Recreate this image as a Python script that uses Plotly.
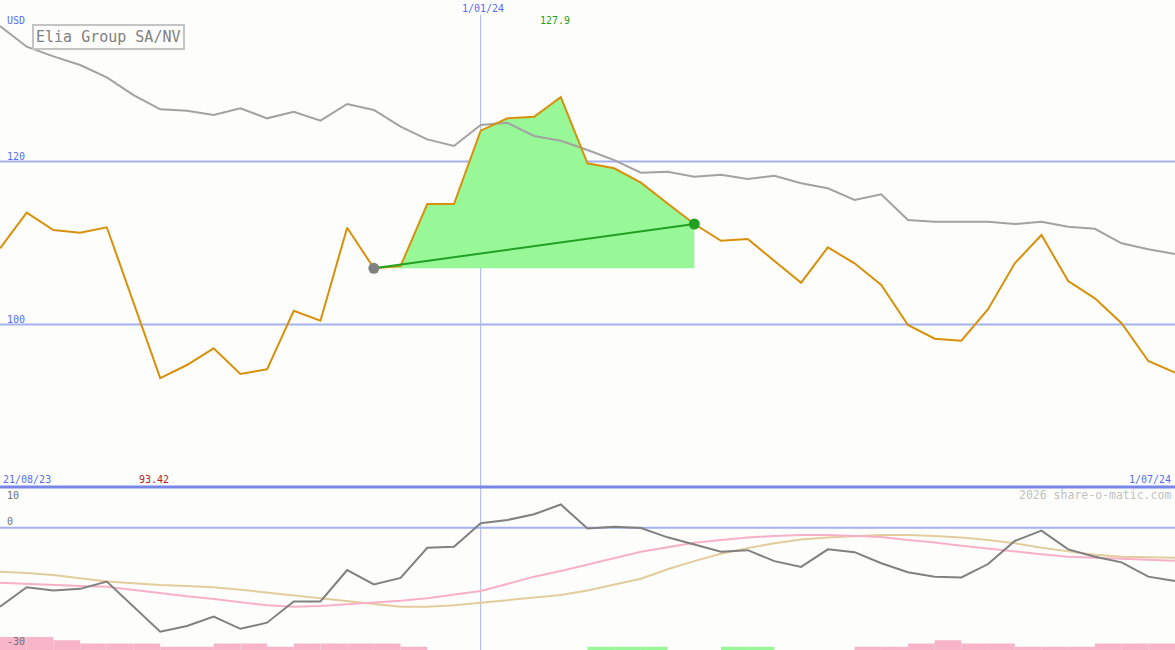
import pandas as pd
import plotly.graph_objects as go

# weekly closes, 45 weeks
weeks = pd.date_range("2023-08-28", periods=45, freq="7D")

price = [109.35, 113.72, 111.6, 111.26, 111.93, 102.7, 93.42, 95.03, 97.08, 93.93,
         94.5, 101.69, 100.47, 111.88, 106.9, 107.18, 114.79, 114.79, 123.78, 125.3,
         125.5, 127.9, 119.78, 119.17, 117.4, 114.85, 112.33, 110.28, 110.49, 107.8,
         105.13, 109.47, 107.51, 104.85, 99.94, 98.26, 98.01, 101.87, 107.51, 110.98,
         105.34, 103.21, 100.15, 95.52, 94.09]

# comparison index (grey line), drawn on the price scale
peer = [136.63, 134.09, 132.9, 131.84, 130.33, 128.16, 126.4, 126.23, 125.71, 126.53,
        125.3, 126.11, 125.01, 127.06, 126.32, 124.27, 122.72, 121.9, 124.48, 124.76,
        123.13, 122.55, 121.41, 120.18, 118.63, 118.75, 118.13, 118.38, 117.85, 118.26,
        117.33, 116.71, 115.28, 115.98, 112.82, 112.61, 112.61, 112.61, 112.33, 112.61,
        112.0, 111.75, 109.96, 109.23, 108.65]

# lower panel
momentum = [-19.4, -14.6, -15.4, -15.0, -13.2, -19.4, -25.5, -24.1, -21.8, -24.8,
            -23.3, -18.1, -18.1, -10.4, -13.9, -12.3, -4.9, -4.65, 1.1, 1.9,
            3.3, 5.7, -0.2, 0.25, -0.05, -2.35, -4.2, -5.9, -5.5, -8.2,
            -9.6, -5.3, -6.0, -8.7, -10.9, -12.0, -12.2, -8.9, -3.25, -0.7,
            -5.3, -7.1, -8.5, -12.0, -13.1]
avg_fast = [-13.5, -13.8, -14.05, -14.3, -14.5, -15.3, -16.1, -16.8, -17.5, -18.2,
            -19.0, -19.4, -19.2, -18.8, -18.4, -17.9, -17.3, -16.4, -15.5, -13.8,
            -12.0, -10.6, -9.0, -7.4, -5.9, -4.8, -3.7, -3.0, -2.4, -2.0,
            -1.8, -1.8, -2.0, -2.3, -3.0, -3.6, -4.4, -5.1, -5.9, -6.5,
            -7.1, -7.35, -7.5, -7.8, -8.1]
avg_slow = [-10.8, -11.1, -11.6, -12.4, -13.2, -13.6, -14.05, -14.3, -14.6, -15.2,
            -15.9, -16.6, -17.3, -18.0, -18.7, -19.4, -19.4, -19.0, -18.4, -17.8,
            -17.2, -16.5, -15.4, -14.0, -12.5, -10.2, -8.2, -6.4, -5.0, -3.8,
            -2.9, -2.4, -2.1, -1.8, -1.8, -2.0, -2.4, -3.0, -3.8, -4.9,
            -5.8, -6.6, -7.1, -7.3, -7.35]
signal = [-4, -4, -3, -2, -2, -2, -1, -1, -2, -2,
          -1, -2, -2, -2, -2, -1, 0, 0, 0, 0,
          0, 0, 1, 1, 1, 0, 0, 1, 1, 0,
          0, 0, -1, -1, -2, -3, -2, -2, -1, -1,
          -1, -2, -2, -2, 0]

start_idx, end_idx = 14, 26
W, H = 1175, 650
split = 487  # pixel row of the panel divider

ORANGE = "#d8900a"
BLUE_TXT = "#5a6af0"
GRID = "#a3b1f0"


def px(x):
    return x / W


def py(y):
    return 1 - y / H


fig = go.Figure()

# trade window fill
base = price[start_idx]
win_x = list(weeks[start_idx:end_idx + 1]) + [weeks[end_idx], weeks[start_idx]]
win_y = price[start_idx:end_idx + 1] + [base, base]
fig.add_trace(go.Scatter(x=win_x, y=win_y, fill="toself", fillcolor="#98f898",
                         mode="lines", line=dict(width=0), yaxis="y"))

fig.add_trace(go.Scatter(x=weeks, y=peer, mode="lines",
                         line=dict(color="#a2a2a2", width=2), yaxis="y"))
fig.add_trace(go.Scatter(x=weeks, y=price, mode="lines",
                         line=dict(color=ORANGE, width=2), yaxis="y"))
fig.add_trace(go.Scatter(x=[weeks[start_idx], weeks[end_idx]],
                         y=[price[start_idx], price[end_idx]], mode="lines",
                         line=dict(color="#22a022", width=2), yaxis="y"))
fig.add_trace(go.Scatter(x=[weeks[start_idx]], y=[price[start_idx]], mode="markers",
                         marker=dict(color="#808080", size=11), yaxis="y"))
fig.add_trace(go.Scatter(x=[weeks[end_idx]], y=[price[end_idx]], mode="markers",
                         marker=dict(color="#22a022", size=11), yaxis="y"))

# lower panel bars
bar_colors = ["#f8b4c8" if s < 0 else "#98f898" for s in signal]
fig.add_trace(go.Bar(x=weeks, y=[abs(s) * 0.8 for s in signal], base=-30,
                     width=7 * 24 * 3600 * 1000, offset=0,
                     marker=dict(color=bar_colors, line=dict(width=0)), yaxis="y2"))
fig.add_trace(go.Scatter(x=weeks, y=avg_slow, mode="lines",
                         line=dict(color="#e2cc9c", width=2), yaxis="y2"))
fig.add_trace(go.Scatter(x=weeks, y=avg_fast, mode="lines",
                         line=dict(color="#f8b0c8", width=2), yaxis="y2"))
fig.add_trace(go.Scatter(x=weeks, y=momentum, mode="lines",
                         line=dict(color="#808080", width=2), yaxis="y2"))

shapes = [
    dict(type="line", xref="paper", x0=0, x1=1, yref="y", y0=120, y1=120,
         line=dict(color=GRID, width=2), layer="below"),
    dict(type="line", xref="paper", x0=0, x1=1, yref="y", y0=100, y1=100,
         line=dict(color=GRID, width=2), layer="below"),
    dict(type="line", xref="paper", x0=0, x1=1, yref="y2", y0=0, y1=0,
         line=dict(color=GRID, width=2), layer="below"),
    dict(type="line", xref="x", x0=pd.Timestamp("2024-01-01"), x1=pd.Timestamp("2024-01-01"),
         yref="paper", y0=0, y1=py(15), line=dict(color="#aab4e4", width=1), layer="below"),
    dict(type="line", xref="paper", x0=0, x1=1, yref="paper", y0=py(split), y1=py(split),
         line=dict(color="#7886ea", width=3)),
]


def label(text, x, y, color, anchor="left", size=10):
    return dict(text=text, xref="paper", yref="paper", x=px(x), y=py(y),
                xanchor=anchor, yanchor="middle", showarrow=False,
                font=dict(family="DejaVu Sans Mono", size=size, color=color))


annotations = [
    label("USD", 5, 20, BLUE_TXT),
    label("120", 5, 156, BLUE_TXT),
    label("100", 5, 319, BLUE_TXT),
    label("1/01/24", 483, 8, BLUE_TXT, "center"),
    label(f"{max(price):g}", 555, 21, "#20a020", "center"),
    label("21/08/23", 1, 479, BLUE_TXT),
    label(f"{min(price):g}", 154, 479, "#b01c1c", "center"),
    label("1/07/24", 1173, 479, BLUE_TXT, "right"),
    label("10", 5, 495, "#707070"),
    label("0", 5, 521, "#707070"),
    label("-30", 5, 641, "#707070"),
    label("2026 share-o-matic.com", 1173, 495, "#c0c0c0", "right", 11.5),
    dict(text="Elia Group SA/NV", xref="paper", yref="paper", x=px(32), y=py(24),
         xanchor="left", yanchor="top", showarrow=False, bordercolor="#c4c4c4",
         borderwidth=2, borderpad=2, bgcolor="#fdfefc",
         font=dict(family="DejaVu Sans Mono", size=15, color="#808080")),
]

fig.update_layout(
    width=W, height=H,
    margin=dict(l=0, r=0, t=0, b=0),
    paper_bgcolor="#fdfefc", plot_bgcolor="#fdfefc",
    showlegend=False, hovermode=False,
    xaxis=dict(range=[weeks[0], weeks[-1]], visible=False, anchor="y2"),
    yaxis=dict(domain=[py(split), 1], range=[80.06, 139.82], visible=False),
    yaxis2=dict(domain=[0, py(split)], range=[-30, 10], visible=False),
    shapes=shapes,
    annotations=annotations,
)

fig.write_html("out.html", config={"displayModeBar": False},
               post_script="document.body.style.margin='0';document.body.style.overflow='hidden';")
